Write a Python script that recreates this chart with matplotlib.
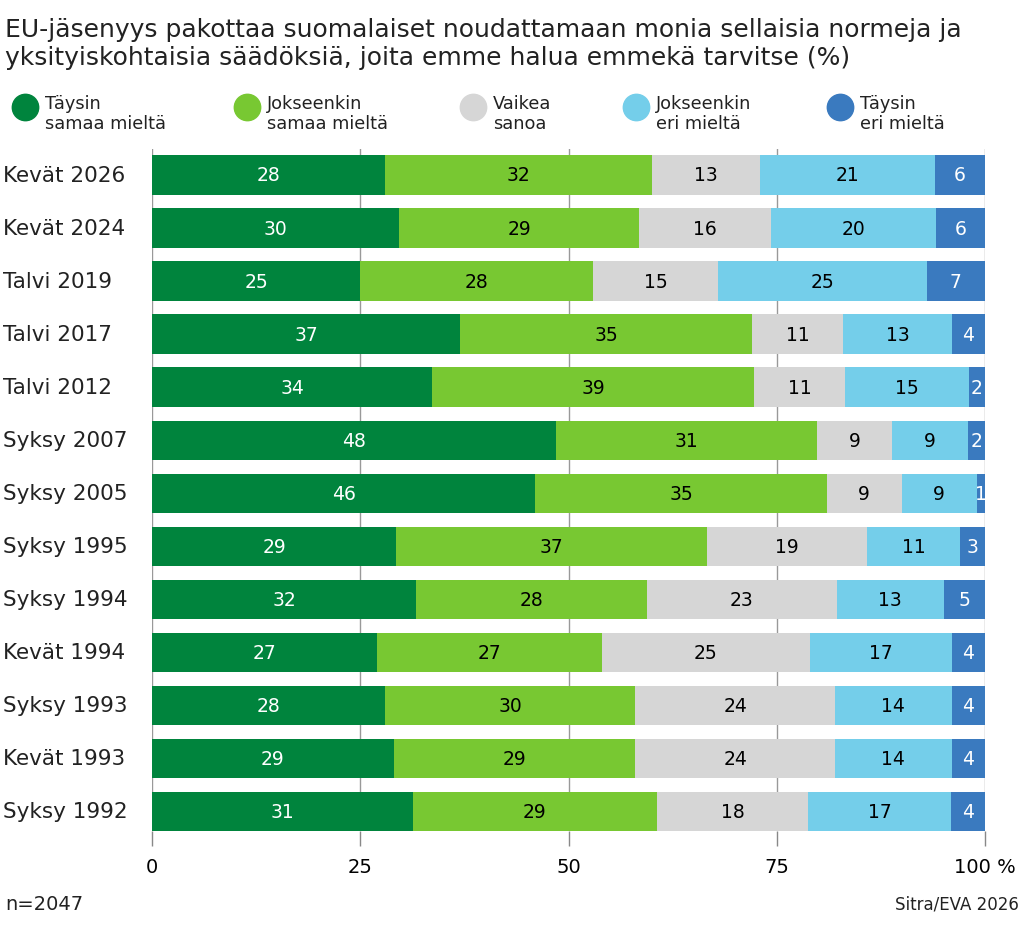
import matplotlib
matplotlib.use("Agg")
import matplotlib.pyplot as plt
import numpy as np
from matplotlib.lines import Line2D
import matplotlib.transforms as mtransforms

plt.rcParams['font.family'] = ['DejaVu Sans']

title = "EU-jäsenyys pakottaa suomalaiset noudattamaan monia sellaisia normeja ja\nyksityiskohtaisia säädöksiä, joita emme halua emmekä tarvitse (%)"
categories = ["Kevät 2026", "Kevät 2024", "Talvi 2019", "Talvi 2017", "Talvi 2012",
              "Syksy 2007", "Syksy 2005", "Syksy 1995", "Syksy 1994", "Kevät 1994",
              "Syksy 1993", "Kevät 1993", "Syksy 1992"]
series_names = ["Täysin\nsamaa mieltä", "Jokseenkin\nsamaa mieltä", "Vaikea\nsanoa",
                "Jokseenkin\neri mieltä", "Täysin\neri mieltä"]
taysin_samaa = [28, 30, 25, 37, 34, 48, 46, 29, 32, 27, 28, 29, 31]
jokseenkin_samaa = [32, 29, 28, 35, 39, 31, 35, 37, 28, 27, 30, 29, 29]
vaikea_sanoa = [13, 16, 15, 11, 11, 9, 9, 19, 23, 25, 24, 24, 18]
jokseenkin_eri = [21, 20, 25, 13, 15, 9, 9, 11, 13, 17, 14, 14, 17]
taysin_eri = [6, 6, 7, 4, 2, 2, 1, 3, 5, 4, 4, 4, 4]
xticks = [0, 25, 50, 75, 100]
xticklabels = ["0", "25", "50", "75", "100 %"]

colors = ["#00843D", "#78C832", "#D6D6D6", "#74CEEA", "#3A7ABF"]
text_colors = ["white", "black", "black", "black", "white"]

data = np.array([taysin_samaa, jokseenkin_samaa, vaikea_sanoa, jokseenkin_eri, taysin_eri], dtype=float)
totals = data.sum(axis=0)
norm = data / totals * 100

fig = plt.figure(figsize=(10.24, 9.28), dpi=100)
ax = fig.add_axes([152/1024, 1 - 832/928, (985-152)/1024, (832-150)/928])

y = np.arange(len(categories))
left = np.zeros(len(categories))
for i in range(5):
    bars = ax.barh(y, norm[i], left=left, height=0.74, color=colors[i], zorder=3)
    for j, b in enumerate(bars):
        cx = left[j] + norm[i][j] / 2
        ax.text(cx, y[j], f"{int(data[i][j])}", ha='center', va='center',
                color=text_colors[i], fontsize=13.5, zorder=4)
    left += norm[i]

ax.set_xlim(0, 100)
ax.set_ylim(12.37, -0.49)
for s in ax.spines.values():
    s.set_visible(False)
ax.set_xticks(xticks)
ax.set_xticklabels(xticklabels, fontsize=14)
ax.tick_params(axis='x', length=11, color='#888888', width=1, pad=8)
ax.set_yticks([])
ax.grid(axis='x', color='#999999', linewidth=1, zorder=0)
ax.set_axisbelow(True)

trans = mtransforms.blended_transform_factory(fig.transFigure, ax.transData)
for j, c in enumerate(categories):
    ax.text(3/1024, y[j], c, transform=trans, ha='left', va='center', fontsize=15.5, color='#222222')

fig.text(5/1024, 1 - 44/928, title, ha='left', va='center', fontsize=18, color='#222222', linespacing=1.25)

leg_x = [25, 247, 473, 636, 840]
for i in range(5):
    fig.add_artist(Line2D([leg_x[i]/1024], [1 - 108/928], marker='o', markersize=19,
                          color=colors[i], transform=fig.transFigure, linestyle='none'))
    fig.text((leg_x[i] + 20)/1024, 1 - 114/928, series_names[i], ha='left', va='center',
             fontsize=12.8, color='#222222', linespacing=1.15)

fig.text(5/1024, 1 - 905/928, "n=2047", ha='left', va='center', fontsize=14, color='#222222')
fig.text(1019/1024, 1 - 905/928, "Sitra/EVA 2026", ha='right', va='center', fontsize=12, color='#222222')

fig.savefig("out.png", dpi=100)
